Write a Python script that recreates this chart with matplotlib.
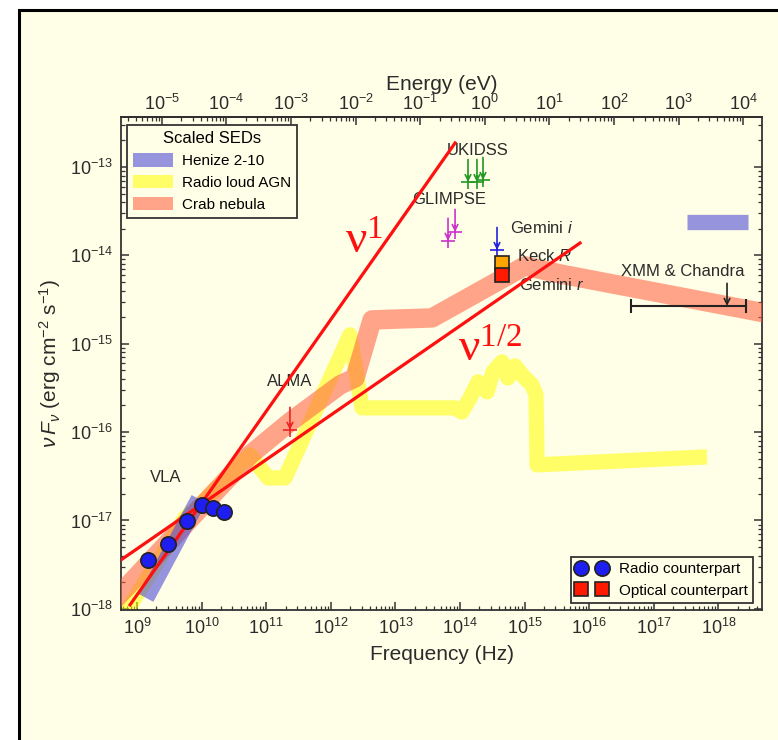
import numpy as np
import matplotlib
matplotlib.use('Agg')
import matplotlib.pyplot as plt
from matplotlib.patches import Rectangle, Patch
from matplotlib.lines import Line2D
from matplotlib.ticker import LogLocator, NullFormatter

plt.rcParams['font.family'] = ['Liberation Sans', 'DejaVu Sans']
plt.rcParams['mathtext.fontset'] = 'custom'
plt.rcParams['mathtext.rm'] = 'Liberation Sans'
plt.rcParams['mathtext.it'] = 'Liberation Sans:italic'
plt.rcParams['mathtext.bf'] = 'Liberation Sans:bold'

BG = '#FFFEE6'
INK = '#2b2b2b'

# ---- data: frequency (Hz) and nuF_nu (erg cm^-2 s^-1) ----
# Henize 2-10 scaled SED (radio band + X-ray bar)
henize_radio_nu = [1.38e9, 9.1e9]
henize_radio_f = [1.33e-18, 1.75e-17]
henize_xray_nu = [3.27e17, 2.87e18]
henize_xray_f = [2.39e-14, 2.39e-14]

# radio loud AGN scaled SED
agn_nu = [5.08e8, 5.53e9, 9.44e9, 5.61e10, 1.07e11, 1.95e11, 1.98e12, 3.04e12,
          8.38e13, 1.07e14, 1.43e14, 1.90e14, 2.62e14, 3.24e14, 4.47e14, 5.53e14,
          7.10e14, 9.44e14, 1.30e15, 1.50e15, 1.56e15, 6.67e17]
agn_f = [6.59e-19, 1.07e-17, 1.50e-17, 5.52e-17, 3.03e-17, 3.03e-17, 1.26e-15, 1.88e-16,
         1.88e-16, 1.69e-16, 2.44e-16, 3.70e-16, 2.85e-16, 4.80e-16, 6.22e-16, 4.10e-16,
         5.61e-16, 4.33e-16, 3.42e-16, 2.64e-16, 4.26e-17, 5.24e-17]

# Crab nebula scaled SED
crab_nu = [3.82e8, 1.13e10, 5.61e10, 2.33e11, 1.39e12, 2.37e12, 4.35e12, 3.69e13,
           4.16e14, 1.01e15, 3.53e15, 6.30e18]
crab_f = [1.11e-18, 1.58e-17, 5.52e-17, 1.30e-16, 3.42e-16, 4.10e-16, 1.86e-15, 1.96e-15,
          5.27e-15, 7.59e-15, 6.17e-15, 2.17e-15]

# power-law guide lines
slope1_nu = [7.80e8, 8.38e13]
slope1_f = [1.11e-18, 1.87e-13]
slope_half_nu = [5.65e8, 7.21e15]
slope_half_f = [3.58e-18, 1.38e-14]

# VLA radio counterpart
vla_nu = [1.5e9, 3e9, 6e9, 1e10, 1.5e10, 2.2e10]
vla_f = [3.58e-18, 5.43e-18, 9.89e-18, 1.50e-17, 1.39e-17, 1.25e-17]

# optical counterpart
keck_nu, keck_f = 4.5e14, 8.2e-15
gemini_r_nu, gemini_r_f = 4.5e14, 6.0e-15

# upper limits
ukidss_nu = [1.33e14, 1.83e14, 2.27e14]
ukidss_f = [6.76e-14, 6.76e-14, 7.13e-14]
glimpse_nu = [6.52e13, 8.38e13]
glimpse_f = [1.46e-14, 1.84e-14]
gemini_i_nu, gemini_i_f = 3.74e14, 1.15e-14
alma_nu, alma_f = 2.33e11, 1.06e-16
xmm_nu = [4.44e16, 2.67e18]
xmm_f = 2.68e-15
xmm_arrow_nu = 1.36e18

# axis ticks
freq_ticks = [1e9, 1e10, 1e11, 1e12, 1e13, 1e14, 1e15, 1e16, 1e17, 1e18]
flux_ticks = [1e-18, 1e-17, 1e-16, 1e-15, 1e-14, 1e-13]
energy_ticks = [1e-5, 1e-4, 1e-3, 1e-2, 1e-1, 1e0, 1e1, 1e2, 1e3, 1e4]

h_ev = 4.135667e-15

fig = plt.figure(figsize=(7.78, 7.40), dpi=100)
fig.patch.set_facecolor('white')
fig.add_artist(Rectangle((18.5 / 778, -0.1), 1.2, 0.1 + (740 - 9.5) / 740,
                         transform=fig.transFigure, facecolor=BG,
                         edgecolor='black', lw=2.2, zorder=-10))

ax = fig.add_axes([121 / 778, 1 - 610 / 740, 641 / 778, 493 / 740])
ax.set_facecolor(BG)
ax.set_xscale('log')
ax.set_yscale('log')
ax.set_xlim(5.65e8, 4.73e18)
ax.set_ylim(9.7e-19, 3.68e-13)

band_kw = dict(solid_capstyle='butt', solid_joinstyle='round')
ax.plot(agn_nu, agn_f, color='#FFFF00', alpha=0.55, lw=11, zorder=2, **band_kw)
ax.plot(crab_nu, crab_f, color='#FF5A3C', alpha=0.55, lw=14, zorder=3, **band_kw)
ax.plot(henize_radio_nu, henize_radio_f, color='#4E4ED8', alpha=0.6, lw=12, zorder=4, **band_kw)
ax.plot(henize_xray_nu, henize_xray_f, color='#4E4ED8', alpha=0.6, lw=11, zorder=4, **band_kw)

ax.plot(slope1_nu, slope1_f, color='#FF1010', lw=2.3, zorder=5)
ax.plot(slope_half_nu, slope_half_f, color='#FF1010', lw=2.3, zorder=5)

ax.plot(vla_nu, vla_f, 'o', mfc='#1E1EF0', mec='#222222', mew=1.2, ms=11, zorder=7)
ax.plot(keck_nu, keck_f, 's', mfc='#FFA500', mec='#222222', mew=1.2, ms=10, zorder=7)
ax.plot(gemini_r_nu, gemini_r_f, 's', mfc='#FF1A00', mec='#222222', mew=1.2, ms=10, zorder=8)


def upper_limit(nu, f, color):
    ax.annotate('', xy=(nu, f), xytext=(nu, f * 1.8),
                arrowprops=dict(arrowstyle='->', color=color, lw=1.2,
                                shrinkA=0, shrinkB=0, mutation_scale=10), zorder=6)
    ax.plot(nu, f, '+', color=color, ms=10, mew=1.2, zorder=6)


for n, f in zip(ukidss_nu, ukidss_f):
    upper_limit(n, f, '#229922')
for n, f in zip(glimpse_nu, glimpse_f):
    upper_limit(n, f, '#CC33CC')
upper_limit(gemini_i_nu, gemini_i_f, '#2222DD')
upper_limit(alma_nu, alma_f, '#EE2222')

ax.plot(xmm_nu, [xmm_f, xmm_f], color='#222222', lw=1.5, zorder=6)
ax.plot(xmm_nu, [xmm_f, xmm_f], '|', color='#222222', ms=10, mew=1.5, zorder=6)
ax.annotate('', xy=(xmm_arrow_nu, xmm_f), xytext=(xmm_arrow_nu, xmm_f * 1.8),
            arrowprops=dict(arrowstyle='->', color='#222222', lw=1.2,
                            shrinkA=0, shrinkB=0, mutation_scale=10), zorder=6)

# labels
lab = dict(color=INK, fontsize=12, va='center')
ax.text(1.9e14, 1.55e-13, 'UKIDSS', ha='center', **lab)
ax.text(6.76e13, 4.24e-14, 'GLIMPSE', ha='center', **lab)
ax.text(5.94e14, 2.04e-14, r'Gemini $\it{i}$', ha='left', **lab)
ax.text(7.62e14, 9.8e-15, r'Keck $\it{R}$', ha='left', **lab)
ax.text(8.19e14, 4.6e-15, r'Gemini $\it{r}$', ha='left', **lab)
ax.text(2.83e17, 6.5e-15, 'XMM & Chandra', ha='center', **lab)
ax.text(2.33e11, 3.7e-16, 'ALMA', ha='center', **lab)
ax.text(2.81e9, 3.03e-17, 'VLA', ha='center', **lab)

nu_lab = dict(color='#FF1010', fontsize=34, fontfamily='Liberation Serif',
              ha='center', va='center', zorder=9)
ax.text(3.3e12, 1.4e-14, r'$\mathregular{ν^{1}}$', **nu_lab)
ax.text(2.9e14, 8.5e-16, r'$\mathregular{ν^{1/2}}$', **nu_lab)

# axes styling
for s in ax.spines.values():
    s.set_color('#333333')
    s.set_linewidth(1.3)
ax.set_xticks(freq_ticks)
ax.set_yticks(flux_ticks)
ax.xaxis.set_minor_locator(LogLocator(base=10, subs=np.arange(2, 10), numticks=30))
ax.yaxis.set_minor_locator(LogLocator(base=10, subs=np.arange(2, 10), numticks=30))
ax.xaxis.set_minor_formatter(NullFormatter())
ax.yaxis.set_minor_formatter(NullFormatter())
ax.tick_params(which='both', direction='in', top=False, right=True,
               colors='#333333', labelcolor=INK, labelsize=13)
ax.tick_params(which='major', length=6, width=1.1)
ax.tick_params(which='minor', length=3, width=0.9)
ax.tick_params(axis='y', pad=6)
ax.tick_params(axis='x', pad=6)
ax.set_xlabel('Frequency (Hz)', fontsize=15, color=INK, labelpad=5)
ax.set_ylabel(r'$\nu\,F_\nu$ (erg cm$^{-2}$ s$^{-1}$)', fontsize=15, color=INK, labelpad=5)

top = ax.secondary_xaxis('top', functions=(lambda x: x * h_ev, lambda e: e / h_ev))
top.set_xticks(energy_ticks)
top.xaxis.set_minor_locator(LogLocator(base=10, subs=np.arange(2, 10), numticks=30))
top.xaxis.set_minor_formatter(NullFormatter())
top.tick_params(which='both', direction='in', colors='#333333', labelcolor=INK,
                labelsize=13, pad=2)
top.tick_params(which='major', length=6, width=1.1)
top.tick_params(which='minor', length=3, width=0.9)
top.spines['top'].set_linewidth(1.3)
top.set_xlabel('Energy (eV)', fontsize=15, color=INK, labelpad=3)

# legends
sed_handles = [Patch(facecolor='#4E4ED8', alpha=0.6, edgecolor='none', label='Henize 2-10'),
               Patch(facecolor='#FFFF00', alpha=0.55, edgecolor='none', label='Radio loud AGN'),
               Patch(facecolor='#FF5A3C', alpha=0.55, edgecolor='none', label='Crab nebula')]
leg1 = ax.legend(handles=sed_handles, title='Scaled SEDs', loc='upper left',
                 bbox_to_anchor=(0.0094, 0.984), borderaxespad=0, fontsize=11,
                 title_fontsize=12, fancybox=False, framealpha=1, facecolor=BG,
                 edgecolor='#333333', handlelength=2.6, handleheight=1.0,
                 handletextpad=0.6, labelspacing=0.45, borderpad=0.4)
leg1.get_frame().set_linewidth(1.3)
ax.add_artist(leg1)

pt_handles = [Line2D([], [], ls='none', marker='o', mfc='#1E1EF0', mec='#222222', mew=1.2,
                     ms=11, label='Radio counterpart'),
              Line2D([], [], ls='none', marker='s', mfc='#FF1A00', mec='#222222', mew=1.2,
                     ms=10, label='Optical counterpart')]
leg2 = ax.legend(handles=pt_handles, loc='lower right', bbox_to_anchor=(0.986, 0.014),
                 borderaxespad=0, numpoints=2, fontsize=11, fancybox=False, framealpha=1,
                 facecolor=BG, edgecolor='#333333', handlelength=2.0,
                 handletextpad=0.8, labelspacing=0.5, borderpad=0.35)
leg2.get_frame().set_linewidth(1.3)

fig.savefig('out.png', dpi=100, facecolor=fig.get_facecolor())
